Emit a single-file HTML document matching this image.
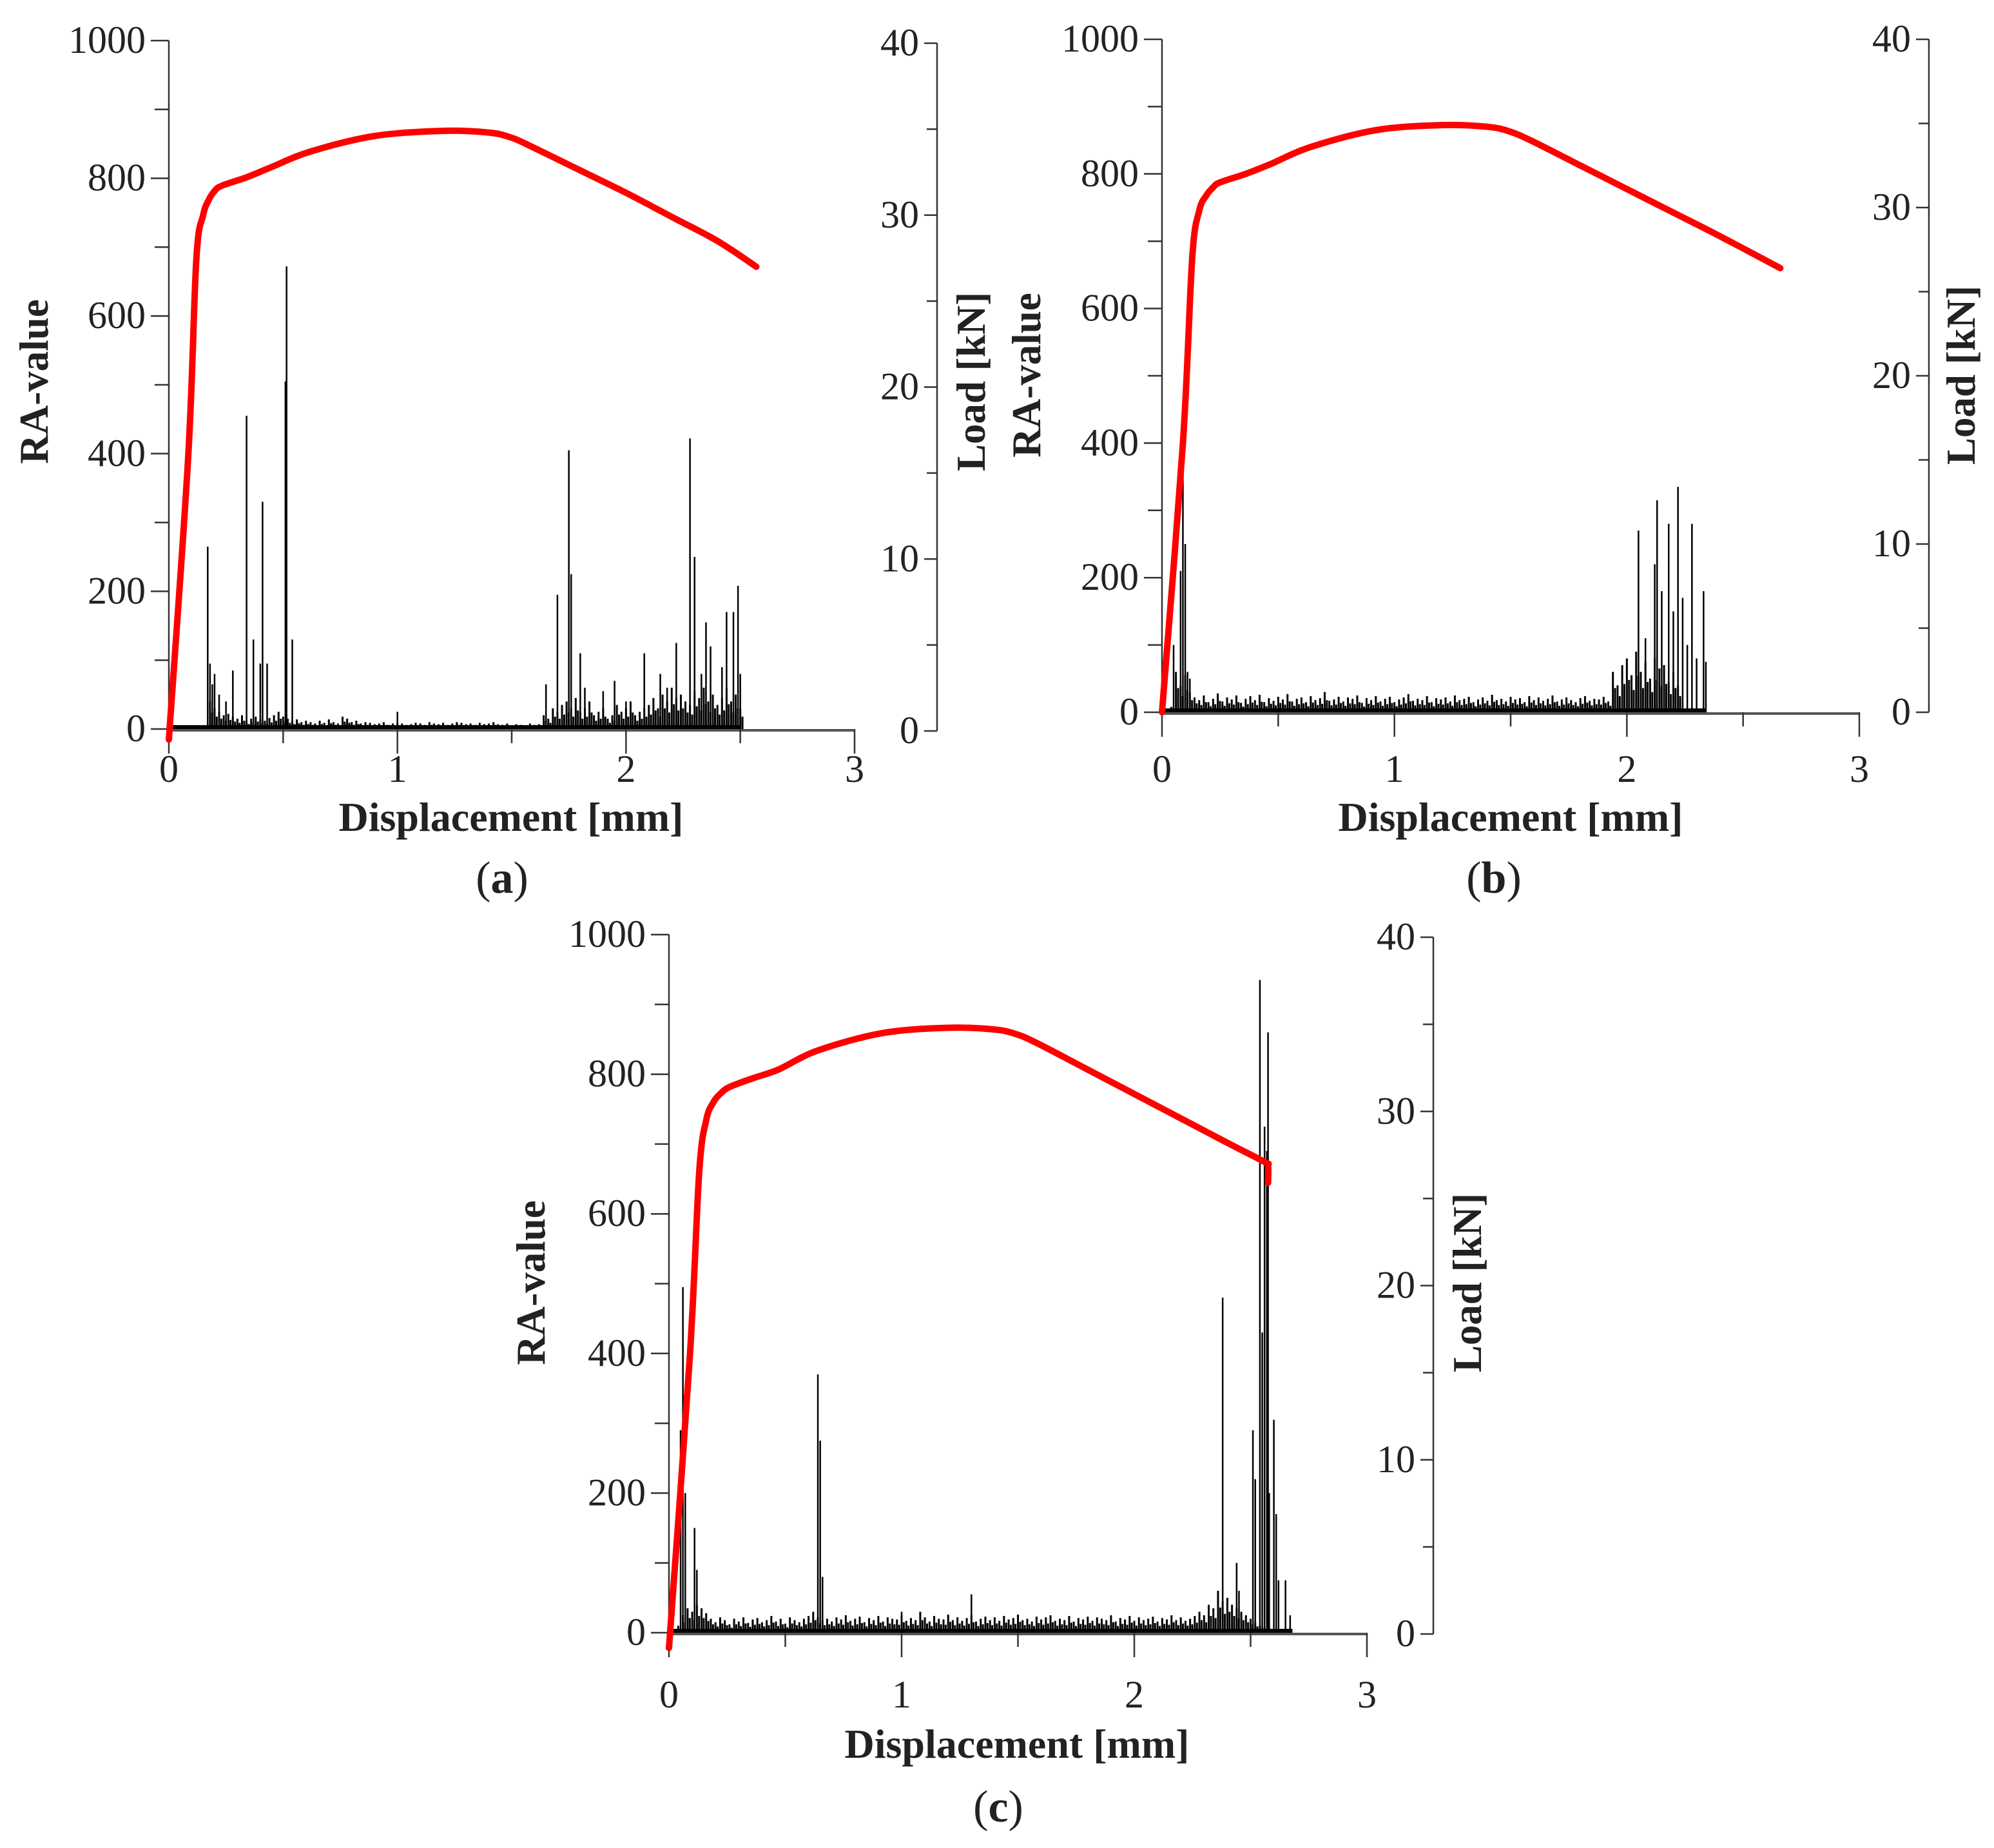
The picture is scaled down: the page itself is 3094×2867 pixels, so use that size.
<!DOCTYPE html>
<html><head><meta charset="utf-8">
<style>
html,body{margin:0;padding:0;background:#fff;}
svg{display:block;}
text{font-family:"Liberation Serif",serif;fill:#222;}
</style></head>
<body>
<svg id="fig" width="3094" height="2867" viewBox="0 0 3094 2867" xmlns="http://www.w3.org/2000/svg"></svg>
<script>
// ---- Data ----
const raTicks = [0,200,400,600,800,1000];
const loadTicks = [0,10,20,30,40];
const dispTicks = [0,1,2,3];

// Load curves (displacement mm, load kN)
const loadA_x = [0,0.085,0.12,0.15,0.175,0.2,0.23,0.34,0.45,0.62,0.9,1.2,1.4,1.5,1.6,1.8,2.0,2.2,2.4,2.57];
const loadA_y = [-0.5,16,27.4,30,30.9,31.4,31.7,32.2,32.8,33.7,34.6,34.9,34.8,34.5,33.9,32.6,31.3,29.9,28.5,27.0];
const loadB_x = [0,0.09,0.13,0.16,0.19,0.22,0.25,0.36,0.47,0.64,0.92,1.2,1.4,1.5,1.6,1.8,2.0,2.2,2.4,2.66];
const loadB_y = [0,16,27,29.8,30.7,31.2,31.5,32.0,32.6,33.6,34.6,34.9,34.8,34.5,33.9,32.5,31.1,29.7,28.3,26.4];
const loadC_x = [0,0.09,0.13,0.16,0.19,0.22,0.26,0.36,0.47,0.64,0.92,1.2,1.4,1.5,1.6,1.8,2.0,2.2,2.4,2.56,2.575,2.575];
const loadC_y = [-0.8,16,26.5,29.5,30.5,31,31.4,31.9,32.4,33.5,34.5,34.8,34.7,34.4,33.8,32.4,31.0,29.6,28.2,27.1,26.9,25.9];

// Acoustic emission RA spikes
const spikeA_x = [0.17,0.18,0.19,0.2,0.22,0.25,0.28,0.34,0.37,0.4,0.41,0.43,0.51,0.515,0.54,1.0,1.65,1.7,1.75,1.76,1.8,1.82,1.9,1.95,2.0,2.08,2.15,2.18,2.22,2.28,2.3,2.33,2.35,2.37,2.42,2.44,2.47,2.49,2.5];
const spikeA_y = [265,95,65,80,50,40,85,455,130,95,330,95,505,672,130,25,65,195,405,225,110,60,55,70,40,110,80,60,125,422,250,80,155,120,90,170,170,208,80];
const noiseA = [3,4,3,5,4,3,4,3,
 40,30,25,20,22,18,15,20,12,15,18,14,12,16,20,25,18,15,12,14,10,12,
 10,8,12,9,14,10,8,18,15,10,12,8,10,9,7,8,10,6,8,9,
 8,6,7,9,8,6,10,8,7,9,6,8,10,9,7,8,6,9,7,8,10,7,6,8,5,7,6,5,8,6,7,
 20,15,30,25,35,40,30,45,25,30,40,20,25,30,15,20,35,25,30,40,20,25,30,35,45,30,50,40,60,45,50,40,35,55,45,60,40,50,35,45,60,40,50,30];

const spikeB_x = [0.05,0.08,0.09,0.1,0.11,0.12,2.05,2.08,2.12,2.13,2.15,2.18,2.2,2.22,2.24,2.26,2.28,2.3,2.33,2.34];
const spikeB_y = [100,210,400,250,60,50,270,110,220,315,180,280,150,335,170,100,280,80,180,75];
const noiseB = [5,8,60,40,55,30,
 22,18,25,15,20,28,16,22,19,25,14,20,24,18,26,15,21,17,23,19,
 27,16,20,22,15,24,18,21,30,17,19,23,16,22,20,25,14,21,18,24,
 16,20,23,15,19,22,27,17,20,18,24,15,21,19,22,16,25,18,20,23,
 15,19,22,17,26,18,20,16,23,19,21,15,24,18,22,17,20,25,16,19,
 22,18,15,21,24,17,20,19,23,16,
 60,40,70,80,55,90,60,75,50,80,65,70,45,60,40];

const spikeC_x = [0.05,0.06,0.07,0.11,0.12,0.64,0.65,0.66,1.0,1.3,2.38,2.44,2.45,2.51,2.52,2.54,2.55,2.56,2.57,2.575,2.58,2.6,2.61,2.62,2.65,2.67];
const spikeC_y = [290,495,200,150,90,370,275,80,30,55,480,100,60,290,220,935,430,725,690,860,200,305,170,75,75,25];
const noiseC = [5,10,25,35,30,40,35,28,
 20,15,22,18,12,20,16,22,14,19,21,15,18,24,16,20,13,22,18,15,
 20,24,30,22,18,20,16,22,19,25,17,20,23,15,21,18,24,16,22,20,
 19,25,17,21,18,30,22,16,24,20,19,26,18,22,17,21,25,16,20,23,
 18,22,17,24,19,21,26,18,20,16,23,19,22,25,17,20,18,24,16,21,
 19,23,17,22,20,18,25,16,21,19,24,17,22,18,20,23,16,21,19,25,
 18,22,17,20,24,30,25,40,35,60,45,50,40,35,30,25,20,15,10,
 8,6,5,5,4];

// ---- Drawing ----
const NS = "http://www.w3.org/2000/svg";
const svg = document.getElementById('fig');
function mk(tag, attrs, parent){
  const e = document.createElementNS(NS, tag);
  for (const k in attrs) e.setAttribute(k, attrs[k]);
  (parent||svg).appendChild(e);
  return e;
}
function smoothPath(pts){
  let d = 'M' + pts[0][0].toFixed(1) + ',' + pts[0][1].toFixed(1);
  for (let i=0;i<pts.length-1;i++){
    const p0 = pts[Math.max(0,i-1)], p1 = pts[i], p2 = pts[i+1], p3 = pts[Math.min(pts.length-1,i+2)];
    const c1x = p1[0]+(p2[0]-p0[0])/6, c1y = p1[1]+(p2[1]-p0[1])/6;
    const c2x = p2[0]-(p3[0]-p1[0])/6, c2y = p2[1]-(p3[1]-p1[1])/6;
    d += 'C'+c1x.toFixed(1)+','+c1y.toFixed(1)+' '+c2x.toFixed(1)+','+c2y.toFixed(1)+' '+p2[0].toFixed(1)+','+p2[1].toFixed(1);
  }
  return d;
}
function drawPanel(L, id, loadX, loadY, spX, spY, noise, noiseEnd, letter){
  const g = mk('g', {});
  
  
  const xS = v => L.x0 + (v/3)*(L.x3 - L.x0);
  const yS = v => L.y0 - (v/1000)*(L.y0 - L.y1000);
  const yR = v => L.r0 - (v/40)*(L.r0 - L.r40);
  // noise
  const ng = mk('g', {stroke:'#000','stroke-width':3}, g);
  
  
  for (let i=0;i<noise.length;i++){
    const d = 0.02 + i*0.02;
    const x = xS(d);
    mk('line', {x1:x, x2:x, y1:L.y0, y2:yS(noise[i])}, ng);
    mk('line', {x1:x+3.4, x2:x+3.4, y1:L.y0, y2:yS(noise[i]*0.6)}, ng);
  }
  // spikes
  const sg = mk('g', {stroke:'#000','stroke-width':2.5}, g);
  
  
  for (let i=0;i<spX.length;i++){
    const x = xS(spX[i]);
    const ln = mk('line', {x1:x, x2:x, y1:L.y0, y2:yS(spY[i])}, sg);
    
    
  }
  // baseline band
  const bl = mk('line', {x1:xS(0), x2:xS(noiseEnd), y1:L.y0-3, y2:L.y0-3, stroke:'#000','stroke-width':6}, g);
  
  
  // axes
  const ax = mk('g', {stroke:'#333','stroke-width':2.5,fill:'none'}, g);
  
  
  mk('line', {x1:L.x0, x2:L.x0, y1:L.y1000, y2:L.y0+4}, ax);
  mk('line', {x1:L.x0, x2:L.x3, y1:L.y0+2, y2:L.y0+2, stroke:'#555','stroke-width':4}, ax);
  mk('line', {x1:L.rx, x2:L.rx, y1:L.r40, y2:L.r0}, ax);
  for (let v=0; v<=1000; v+=100) mk('line', {x1:L.x0-(v%200==0?28:22), x2:L.x0, y1:yS(v), y2:yS(v)}, ax);
  for (let v=0; v<=40; v+=5) mk('line', {x1:L.rx-(v%10==0?20:16), x2:L.rx, y1:yR(v), y2:yR(v)}, ax);
  for (let v=0; v<=3; v+=0.5) mk('line', {x1:xS(v), x2:xS(v), y1:L.y0, y2:L.y0+(v%1==0?38:22)}, ax);
  // tick labels
  raTicks.forEach(v=>{
    const t = mk('text', {x:L.x0-36, y:yS(v)+19, 'text-anchor':'end','font-size':60}, g);
    t.textContent = v;
    
    
  });
  loadTicks.forEach(v=>{
    const t = mk('text', {x:L.rx-28, y:yR(v)+19, 'text-anchor':'end','font-size':60}, g);
    t.textContent = v;
    
    
  });
  dispTicks.forEach(v=>{
    const t = mk('text', {x:xS(v), y:L.y0+L.tickOff, 'text-anchor':'middle','font-size':60}, g);
    t.textContent = v;
    
    
  });
  // titles
  const t1 = mk('text', {x:0, y:0, 'text-anchor':'middle','font-size':63,'font-weight':'bold', transform:`translate(${L.raX},${L.raY}) rotate(-90)`}, g);
  t1.textContent = 'RA-value';
  
  
  const t2 = mk('text', {x:0, y:0, 'text-anchor':'middle','font-size':63,'font-weight':'bold', transform:`translate(${L.ldX},${L.raY}) rotate(-90)`}, g);
  t2.textContent = 'Load [kN]';
  
  
  const t3 = mk('text', {x:L.tX, y:L.y0+L.titleOff, 'text-anchor':'middle','font-size':64,'font-weight':'bold'}, g);
  t3.textContent = 'Displacement [mm]';
  
  
  const t4 = mk('text', {x:L.lbX, y:L.lbY, 'text-anchor':'middle','font-size':70}, g);
  t4.innerHTML = '(<tspan font-weight="bold">'+letter+'</tspan>)';
  
  
  // load curve
  const pts = loadX.map((x,i)=>[xS(x), yR(loadY[i])]);
  const p = mk('path', {d:smoothPath(pts), fill:'none', stroke:'#ff0000','stroke-width':10,'stroke-linejoin':'round','stroke-linecap':'round'}, g);
  
  
}
drawPanel({x0:262,x3:1326,y0:1131,y1000:63,rx:1454,r0:1134,r40:67,raX:74,ldX:1528,raY:592,lbX:779,lbY:1385,tickOff:82,titleOff:158,tX:793},
  'a', loadA_x, loadA_y, spikeA_x, spikeA_y, noiseA, 2.5, 'a');
drawPanel({x0:1803,x3:2885,y0:1105,y1000:61,rx:2993,r0:1105,r40:61,raX:1614,ldX:3064,raY:582,lbX:2318,lbY:1385,tickOff:108,titleOff:184,tX:2344},
  'b', loadB_x, loadB_y, spikeB_x, spikeB_y, noiseB, 2.34, 'b');
drawPanel({x0:1038,x3:2121,y0:2533,y1000:1450,rx:2224,r0:2535,r40:1454,raX:845,ldX:2298,raY:1990,lbX:1549,lbY:2826,tickOff:116,titleOff:194,tX:1578},
  'c', loadC_x, loadC_y, spikeC_x, spikeC_y, noiseC, 2.68, 'c');
</script>
</body></html>
